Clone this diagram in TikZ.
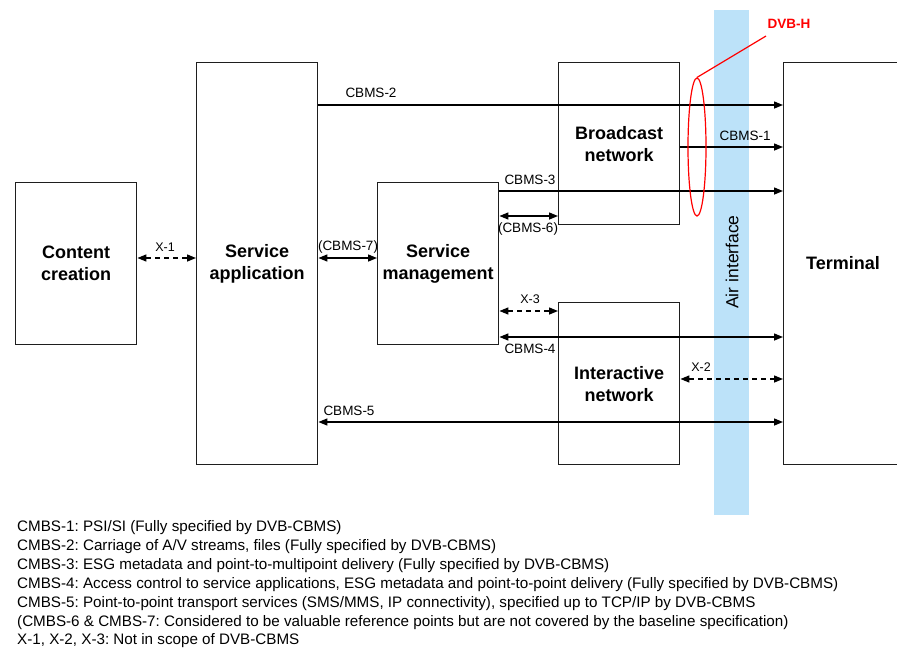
\documentclass[tikz,border=0pt]{standalone}
\usepackage{fontspec}
\setmainfont{Liberation Sans}
\usetikzlibrary{arrows.meta,shapes.geometric}
\definecolor{airblue}{HTML}{BCE2F9}
\definecolor{boxline}{HTML}{1E1E1E}
\frenchspacing
\tikzset{
  box/.style={draw=boxline, line width=1.4pt, anchor=north west, inner sep=0pt, align=center,
    font=\bfseries\fontsize{18}{22}\selectfont},
  lbl/.style={inner sep=0pt, font=\fontsize{13.5}{16}\selectfont},
  xlbl/.style={inner sep=0pt, font=\fontsize{12.5}{15}\selectfont},
  arr/.style={line width=1.4pt, -{Triangle[length=9pt,width=7pt]}},
  darr/.style={line width=1.4pt, {Triangle[length=9pt,width=7pt]}-{Triangle[length=9pt,width=7pt]}},
  dasharr/.style={darr, dash pattern=on 5pt off 4pt},
  legend/.style={anchor=west, inner sep=0pt, font=\fontsize{15.2}{18}\selectfont}
}
\begin{document}
\begin{tikzpicture}[x=1pt,y=-1pt]
\useasboundingbox (0,0) rectangle (897,648);
\clip (0,0) rectangle (897,648);
% air interface band
\fill[airblue] (714,10) rectangle (749,515);
\node[rotate=90, inner sep=0pt, font=\fontsize{17.5}{20}\selectfont] (air) at (732,262) {Air interface};
% boxes
\node[box, minimum width=121pt, minimum height=162pt] (cc) at (15,182) {Content\\creation};
\node[box, minimum width=121pt, minimum height=402pt] (sa) at (196,62) {Service\\application};
\node[box, minimum width=121pt, minimum height=162pt] (sm) at (377,182) {Service\\management};
\node[box, minimum width=121pt, minimum height=162pt] (bn) at (558,62) {Broadcast\\network};
\node[box, minimum width=121pt, minimum height=162pt] (in) at (558,302) {Interactive\\network};
\node[box, minimum width=140pt, minimum height=402pt] (term) at (783,62) {};
\node[inner sep=0pt, font=\bfseries\fontsize{18}{22}\selectfont] (termlbl) at (843,263) {Terminal};
% y levels
\coordinate (y2) at (0,105);
\coordinate (y1) at (0,147);
\coordinate (y3) at (0,191);
\coordinate (y6) at (0,216);
\coordinate (y7) at (0,258);
\coordinate (yx3) at (0,311);
\coordinate (y4) at (0,337);
\coordinate (yx2) at (0,379);
\coordinate (y5) at (0,422);
% connectors
\draw[arr] (sa.east |- y2) -- (term.west |- y2);
\draw[arr] (bn.east |- y1) -- (term.west |- y1);
\draw[arr] (sm.east |- y3) -- (term.west |- y3);
\draw[darr] (sm.east |- y6) -- (bn.west |- y6);
\draw[darr] (sa.east |- y7) -- (sm.west |- y7);
\draw[dasharr] (cc.east |- y7) -- (sa.west |- y7);
\draw[dasharr] (sm.east |- yx3) -- (in.west |- yx3);
\draw[darr] (sm.east |- y4) -- (term.west |- y4);
\draw[dasharr] (in.east |- yx2) -- (term.west |- yx2);
\draw[darr] (sa.east |- y5) -- (term.west |- y5);
% labels
\node[lbl] (l2) at (371,93) {CBMS-2};
\node[lbl] (l1) at (745,136) {CBMS-1};
\node[lbl] (l3) at (530,180) {CBMS-3};
\node[lbl] (l6) at (528,229) {(CBMS-6)};
\node[lbl] (l7) at (348,247) {(CBMS-7)};
\node[xlbl] (lx1) at (165,247) {X-1};
\node[xlbl] (lx3) at (530,299) {X-3};
\node[lbl] (l4) at (530,349) {CBMS-4};
\node[xlbl] (lx2) at (701,367) {X-2};
\node[lbl] (l5) at (349,411) {CBMS-5};
% DVB-H
\node[ellipse, draw=red, line width=1.2pt, minimum width=18pt, minimum height=138pt, inner sep=0pt] (dvbell) at (697,147) {};
\node[inner sep=0pt, text=red, font=\bfseries\fontsize{13.5}{16}\selectfont] (dvbh) at (789,24) {DVB-H};
\coordinate (dvbend) at (766,36);
\draw[red, line width=1.2pt] (dvbell.north) -- (dvbend);
% legend
\node[legend] (g1) at (17,528) {CMBS-1: PSI/SI (Fully specified by DVB-CBMS)};
\node[legend] (g2) at (17,547) {CMBS-2: Carriage of A/V streams, files (Fully specified by DVB-CBMS)};
\node[legend] (g3) at (17,566) {CMBS-3: ESG metadata and point-to-multipoint delivery (Fully specified by DVB-CBMS)};
\node[legend] (g4) at (17,585) {CMBS-4: Access control to service applications, ESG metadata and point-to-point delivery (Fully specified by DVB-CBMS)};
\node[legend] (g5) at (17,604) {CMBS-5: Point-to-point transport services (SMS/MMS, IP connectivity), specified up to TCP/IP by DVB-CBMS};
\node[legend] (g6) at (17,623) {(CMBS-6 \& CMBS-7: Considered to be valuable reference points but are not covered by the baseline specification)};
\node[legend] (g7) at (17,641) {X-1, X-2, X-3: Not in scope of DVB-CBMS};
\end{tikzpicture}
\end{document}
